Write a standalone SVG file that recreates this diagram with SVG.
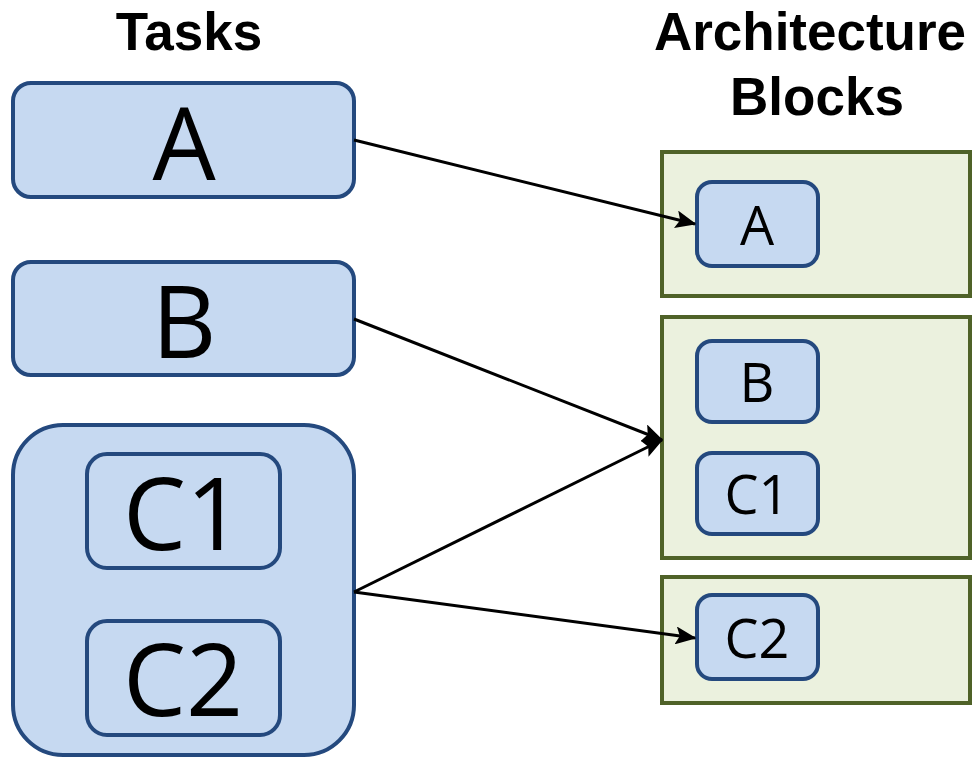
<svg xmlns="http://www.w3.org/2000/svg" width="972" height="757" viewBox="0 0 972 757">
  <style>
    .task { fill: #C6D9F1; stroke: #24497E; stroke-width: 4; }
    .block { fill: #EBF1DE; stroke: #4F6228; stroke-width: 4; }
    .head { font-family: "Liberation Sans", Arial, sans-serif; font-weight: bold; font-size: 53px; fill: #000; text-anchor: middle; }
    .big { font-family: "Open Sans", "Liberation Sans", sans-serif; font-size: 100px; fill: #000; text-anchor: middle; }
    .small { font-family: "Open Sans", "Liberation Sans", sans-serif; font-size: 54px; fill: #000; text-anchor: middle; }
    .conn { stroke: #000; stroke-width: 3; fill: none; marker-end: url(#arrow); }
  </style>
  <defs>
    <marker id="arrow" markerWidth="7" markerHeight="6" refX="6.5" refY="3" orient="auto" markerUnits="strokeWidth">
      <path d="M0,0 L7,3 L0,6 L1.4,3 Z" fill="#000"/>
    </marker>
  </defs>

  <!-- column headings -->
  <text class="head" x="189" y="50">Tasks</text>
  <text class="head" x="810" y="50">Architecture</text>
  <text class="head" x="817" y="115">Blocks</text>

  <!-- tasks -->
  <g id="task-a">
    <rect class="task" x="13" y="83" width="341" height="114" rx="18"/>
    <text class="big" x="184" y="180">A</text>
  </g>
  <g id="task-b">
    <rect class="task" x="13" y="262" width="341" height="113" rx="18"/>
    <text class="big" x="184" y="358">B</text>
  </g>
  <g id="task-c">
    <rect class="task" x="13" y="425" width="341" height="330" rx="50"/>
    <g id="task-c1">
      <rect class="task" x="87" y="454" width="193" height="114" rx="20"/>
      <text class="big" x="183" y="550">C1</text>
    </g>
    <g id="task-c2">
      <rect class="task" x="87" y="621" width="193" height="114" rx="20"/>
      <text class="big" x="183" y="716">C2</text>
    </g>
  </g>

  <!-- architecture blocks -->
  <g id="block-1">
    <rect class="block" x="662" y="152" width="308" height="144"/>
    <g id="block-1-a">
      <rect class="task" x="697" y="182" width="121" height="84" rx="15"/>
      <text class="small" x="757" y="245">A</text>
    </g>
  </g>
  <g id="block-2">
    <rect class="block" x="662" y="317" width="308" height="241"/>
    <g id="block-2-b">
      <rect class="task" x="697" y="341" width="121" height="81" rx="15"/>
      <text class="small" x="757" y="402">B</text>
    </g>
    <g id="block-2-c1">
      <rect class="task" x="697" y="453" width="121" height="81" rx="15"/>
      <text class="small" x="757" y="514">C1</text>
    </g>
  </g>
  <g id="block-3">
    <rect class="block" x="662" y="577" width="308" height="126"/>
    <g id="block-3-c2">
      <rect class="task" x="697" y="595" width="121" height="84" rx="15"/>
      <text class="small" x="757" y="658">C2</text>
    </g>
  </g>

  <!-- connectors -->
  <g id="connectors">
    <line class="conn" x1="354" y1="140" x2="695" y2="224"/>
    <line class="conn" x1="354" y1="319" x2="662" y2="440"/>
    <line class="conn" x1="354" y1="592" x2="662" y2="440"/>
    <line class="conn" x1="354" y1="592" x2="695" y2="638"/>
  </g>
</svg>
